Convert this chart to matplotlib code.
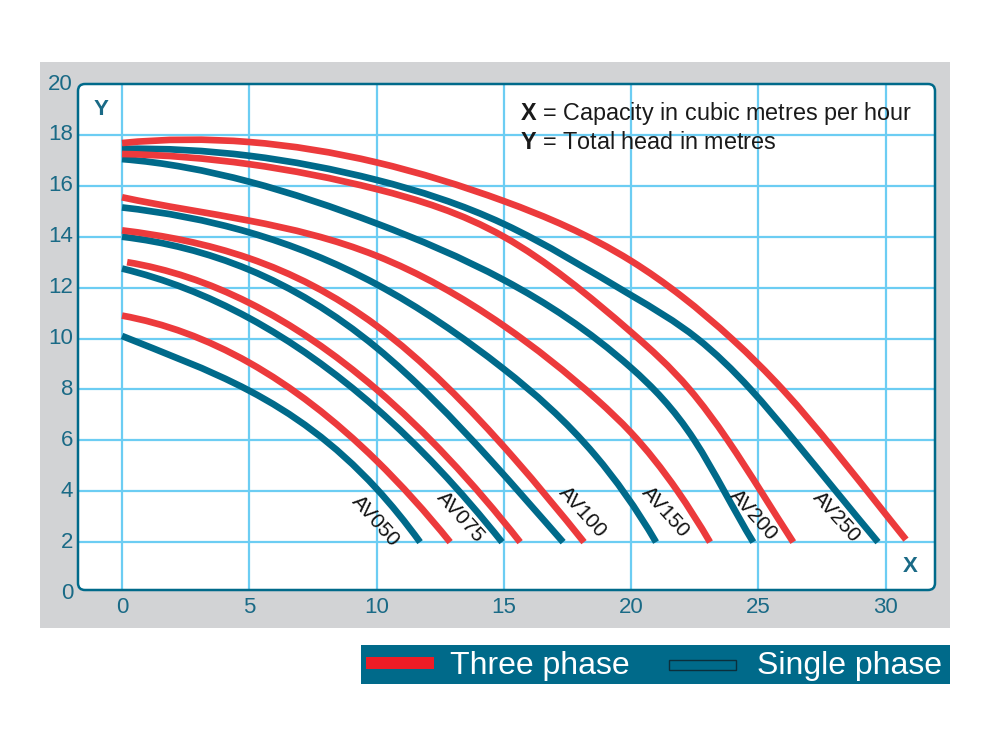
import matplotlib
matplotlib.use("Agg")
import numpy as np
import matplotlib.pyplot as plt
from matplotlib.path import Path
from matplotlib.patches import PathPatch, FancyBboxPatch, Rectangle
from matplotlib.transforms import blended_transform_factory

plt.rcParams['font.family'] = ['Liberation Sans', 'DejaVu Sans']
plt.rcParams['mathtext.fontset'] = 'custom'
plt.rcParams['mathtext.rm'] = 'Liberation Sans'
plt.rcParams['mathtext.bf'] = 'Liberation Sans:bold'

# ---------------- data ----------------
models = ['AV050', 'AV075', 'AV100', 'AV150', 'AV200', 'AV250']

# single phase (teal) curves: capacity (m3/h) and head (m)
av050_single_x = [0.0, 5.0, 10.0, 11.71]
av050_single_y = [10.1, 7.95, 4.1, 2.0]
av075_single_x = [0.0, 5.0, 10.0, 14.93]
av075_single_y = [12.75, 10.8, 7.25, 2.0]
av100_single_x = [0.0, 5.0, 10.0, 14.5, 17.33]
av100_single_y = [14.0, 12.7, 9.64, 5.2, 2.0]
av150_single_x = [0.0, 5.0, 10.0, 15.0, 18.6, 20.98]
av150_single_y = [15.15, 14.17, 12.13, 8.8, 5.4, 2.0]
av200_single_x = [0.0, 5.0, 10.0, 15.0, 20.0, 22.49, 23.66, 24.8]
av200_single_y = [17.05, 16.16, 14.52, 12.3, 8.85, 6.0, 4.0, 2.0]
av250_single_x = [0.0, 5.0, 10.0, 15.0, 20.0, 22.6, 24.7, 26.41, 28.05, 29.7]
av250_single_y = [17.45, 17.18, 16.23, 14.5, 11.7, 10.0, 8.0, 6.0, 4.0, 2.0]

# three phase (red) curves
av050_three_x = [0.0, 5.0, 10.0, 12.89]
av050_three_y = [10.9, 9.05, 5.2, 2.0]
av075_three_x = [0.2, 5.0, 10.0, 15.64]
av075_three_y = [13.0, 11.4, 8.0, 2.0]
av100_three_x = [0.0, 5.0, 10.0, 15.4, 18.15]
av100_three_y = [14.25, 13.15, 10.5, 5.3, 2.0]
av150_three_x = [0.0, 5.0, 10.0, 15.0, 18.69, 20.0, 21.83, 23.1]
av150_three_y = [15.55, 14.63, 13.25, 10.5, 7.57, 6.3, 4.0, 2.0]
av200_three_x = [0.0, 5.0, 10.0, 15.0, 20.0, 22.3, 23.8, 25.1, 26.37]
av200_three_y = [17.25, 16.85, 15.87, 14.0, 10.25, 8.0, 6.0, 4.0, 2.0]
av250_three_x = [0.0, 5.0, 10.0, 15.0, 20.0, 22.0, 24.0, 26.0, 28.0, 30.0, 30.8]
av250_three_y = [17.68, 17.72, 16.92, 15.4, 13.05, 11.65, 9.95, 7.95, 5.6, 3.1, 2.1]

single_series = [(av050_single_x, av050_single_y), (av075_single_x, av075_single_y),
                 (av100_single_x, av100_single_y), (av150_single_x, av150_single_y),
                 (av200_single_x, av200_single_y), (av250_single_x, av250_single_y)]
three_series = [(av050_three_x, av050_three_y), (av075_three_x, av075_three_y),
                (av100_three_x, av100_three_y), (av150_three_x, av150_three_y),
                (av200_three_x, av200_three_y), (av250_three_x, av250_three_y)]

x_ticks = [0, 5, 10, 15, 20, 25, 30]
y_ticks = [0, 2, 4, 6, 8, 10, 12, 14, 16, 18, 20]

# ---------------- style ----------------
RED = '#EC3A3C'
TEAL = '#006A8A'
GRID = '#6CCDF3'
GRAY = '#D2D3D5'
TICK = '#1A6A86'

W, H = 1000, 752
fig = plt.figure(figsize=(10, 7.52), dpi=100)
fig.patch.set_facecolor('white')

def fy(py):
    return 1 - py / H

# gray panel
fig.add_artist(Rectangle((40 / W, fy(628)), 910 / W, (628 - 62) / H,
                         transform=fig.transFigure, facecolor=GRAY,
                         edgecolor='none', zorder=-3))
# white rounded plot box
box_kw = dict(boxstyle='round,pad=0,rounding_size=0.07', transform=fig.dpi_scale_trans)
fig.add_artist(FancyBboxPatch((0.78, (H - 590) / 100), 8.57, 5.06,
                              facecolor='white', edgecolor='none', zorder=-2, **box_kw))

ax = fig.add_axes([78 / W, fy(590), 857 / W, 506 / H])
ax.set_facecolor('none')
ax.set_xlim(-1.73, 31.94)
ax.set_ylim(0.12, 20.0)
for s in ax.spines.values():
    s.set_visible(False)

for gx in x_ticks:
    ax.axvline(gx, color=GRID, lw=1.6, zorder=1)
for gy in y_ticks[1:-1]:
    ax.axhline(gy, color=GRID, lw=1.6, zorder=1)


def spline_path(xs, ys):
    """Not-a-knot cubic spline through the read points, expressed as Bezier segments."""
    x = np.asarray(xs, float)
    y = np.asarray(ys, float)
    n = len(x)
    h = np.diff(x)
    s = np.diff(y) / h
    A = np.zeros((n, n))
    b = np.zeros(n)
    A[0, 0], A[0, 1], A[0, 2] = h[1], -(h[0] + h[1]), h[0]
    for i in range(1, n - 1):
        A[i, i - 1] = h[i - 1]
        A[i, i] = 2 * (h[i - 1] + h[i])
        A[i, i + 1] = h[i]
        b[i] = 6 * (s[i] - s[i - 1])
    A[n - 1, n - 3], A[n - 1, n - 2], A[n - 1, n - 1] = h[n - 2], -(h[n - 3] + h[n - 2]), h[n - 3]
    M = np.linalg.solve(A, b)
    verts = [(x[0], y[0])]
    codes = [Path.MOVETO]
    for i in range(n - 1):
        d0 = s[i] - h[i] * (2 * M[i] + M[i + 1]) / 6
        d1 = s[i] + h[i] * (M[i] + 2 * M[i + 1]) / 6
        verts += [(x[i] + h[i] / 3, y[i] + d0 * h[i] / 3),
                  (x[i + 1] - h[i] / 3, y[i + 1] - d1 * h[i] / 3),
                  (x[i + 1], y[i + 1])]
        codes += [Path.CURVE4] * 3
    return Path(verts, codes)


for xs, ys in single_series:
    ax.add_patch(PathPatch(spline_path(xs, ys), fill=False, edgecolor=TEAL,
                           lw=4.8, capstyle='butt', zorder=3))
for xs, ys in three_series:
    ax.add_patch(PathPatch(spline_path(xs, ys), fill=False, edgecolor=RED,
                           lw=4.8, capstyle='butt', zorder=4))

# model labels
label_pos = [(9.97, 2.84), (13.28, 3.0), (18.09, 3.17), (21.34, 3.17), (24.83, 3.06), (28.08, 3.0)]
for name, (lx, ly) in zip(models, label_pos):
    ax.text(lx, ly, name, rotation=-48, rotation_mode='anchor', ha='center', va='center',
            fontsize=15, color='#111111', zorder=5)

# ticks
ax.set_xticks(x_ticks)
ax.set_xticklabels([str(v) for v in x_ticks], fontsize=16, color=TICK)
ax.tick_params(axis='x', length=0, pad=5)
ax.set_yticks([])
btr = blended_transform_factory(ax.transAxes, ax.transData)
for v in y_ticks:
    ax.text(-5 / 857, v + 0.0, str(v), transform=btr, ha='right', va='center',
            fontsize=16, color=TICK, clip_on=False)

# axis letters
ax.text(-0.83, 18.98, 'Y', fontsize=16, fontweight='bold', color=TICK, ha='center', va='center')
ax.text(30.96, 1.06, 'X', fontsize=16, fontweight='bold', color=TICK, ha='center', va='center')

# definitions text
fig.text(520 / W, fy(120), r'$\mathbf{X}$ = Capacity in cubic metres per hour', fontsize=16.8,
         color='#1A1A1A', ha='left', va='baseline')
fig.text(520 / W, fy(149), r'$\mathbf{Y}$ = Total head in metres', fontsize=16.8,
         color='#1A1A1A', ha='left', va='baseline')

# border on top
fig.add_artist(FancyBboxPatch((0.78, (H - 590) / 100), 8.57, 5.06,
                              facecolor='none', edgecolor=TEAL, lw=1.8, zorder=10, **box_kw))

# legend bar
fig.add_artist(Rectangle((361 / W, fy(684)), 589 / W, 39 / H, transform=fig.transFigure,
                         facecolor=TEAL, edgecolor='none', zorder=-3))
fig.add_artist(Rectangle((366 / W, fy(669)), 68 / W, 12 / H, transform=fig.transFigure,
                         facecolor='#EE1C25', edgecolor='none', zorder=11))
fig.text(450 / W, fy(674), 'Three phase', fontsize=23, color='white', ha='left', va='baseline')
fig.add_artist(Rectangle((669 / W, fy(670)), 67 / W, 10 / H, transform=fig.transFigure,
                         facecolor=TEAL, edgecolor='#0B2F3C', lw=1.0, zorder=11))
fig.text(757 / W, fy(674), 'Single phase', fontsize=23, color='white', ha='left', va='baseline')

fig.savefig('out.png', dpi=100)
